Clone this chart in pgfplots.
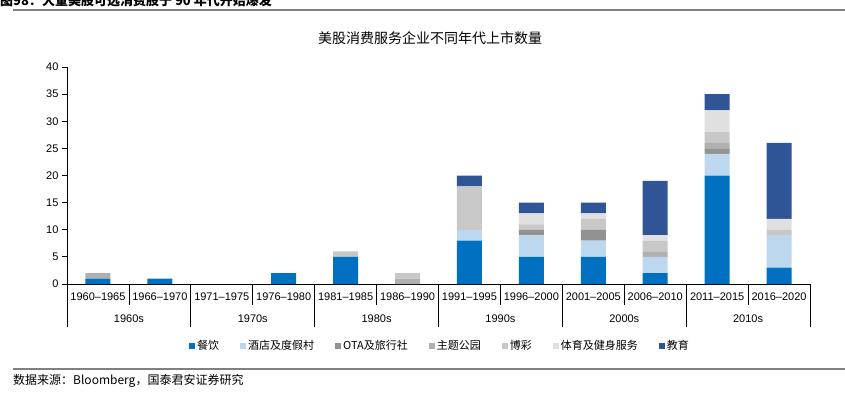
\documentclass[border=0pt]{standalone}
\usepackage{fontspec}
\setmainfont{Liberation Sans}
\newfontfamily\cjk{Noto Sans CJK SC}
\usepackage{pgfplots}
\pgfplotsset{compat=1.18}
\usepackage{pgfplotstable}
\definecolor{c1}{HTML}{0070C0}
\definecolor{c2}{HTML}{BDD7EE}
\definecolor{c3}{HTML}{929292}
\definecolor{c4}{HTML}{B0B0B0}
\definecolor{c5}{HTML}{C8C8C8}
\definecolor{c6}{HTML}{E0E0E0}
\definecolor{c7}{HTML}{2F5597}
\pgfplotstableread{
x a b c d e f g
0 1 0 0 1 0 0 0
1 1 0 0 0 0 0 0
2 0 0 0 0 0 0 0
3 2 0 0 0 0 0 0
4 5 0 0 0 1 0 0
5 0 0 0 1 1 0 0
6 8 2 0 0 8 0 2
7 5 4 1 0 1 2 2
8 5 3 2 0 2 1 2
9 2 3 0 1 2 1 10
10 20 4 1 1 2 4 3
11 3 6 0 0 1 2 14
}\datatable
\begin{document}
\begin{tikzpicture}
\useasboundingbox (0pt,0pt) rectangle (845pt,399pt);
\begin{axis}[
  at={(67pt,115pt)}, anchor=south west,
  scale only axis, width=743pt, height=217pt,
  ybar stacked, bar width=25pt,
  every axis plot post/.append style={legend image code/.code={\path[##1,draw=none] (0pt,-3pt) rectangle (6pt,3pt);}},
  xmin=-0.5, xmax=11.5, ymin=0, ymax=40,
  axis x line*=bottom, axis y line*=left,
  axis line style={black, line width=0.8pt},
  ytick={0,5,...,40},
  xtick={0,...,11},
  xticklabels={1960--1965,1966--1970,1971--1975,1976--1980,1981--1985,1986--1990,1991--1995,1996--2000,2001--2005,2006--2010,2011--2015,2016--2020},
  x tick style={draw=none},
  y tick style={black, line width=0.8pt},
  tick align=outside, major tick length=5pt,
  ticklabel style={font=\fontsize{11}{13}\selectfont},
  /pgf/number format/assume math mode=true,
  clip=false,
  legend style={at={(0.502,-0.285)}, anchor=center, draw=none, fill=none, legend columns=-1,
    font=\cjk\fontsize{11}{13}\selectfont,
    /tikz/every even column/.append style={column sep=19pt}},
]
\addplot[fill=c1, draw=none] table[x=x,y=a]{\datatable}; \addlegendentry{餐饮}
\addplot[fill=c2, draw=none] table[x=x,y=b]{\datatable}; \addlegendentry{酒店及度假村}
\addplot[fill=c3, draw=none] table[x=x,y=c]{\datatable}; \addlegendentry{OTA及旅行社}
\addplot[fill=c4, draw=none] table[x=x,y=d]{\datatable}; \addlegendentry{主题公园}
\addplot[fill=c5, draw=none] table[x=x,y=e]{\datatable}; \addlegendentry{博彩}
\addplot[fill=c6, draw=none] table[x=x,y=f]{\datatable}; \addlegendentry{体育及健身服务}
\addplot[fill=c7, draw=none] table[x=x,y=g]{\datatable}; \addlegendentry{教育}
\end{axis}
% category separators
\foreach \i in {1,3,5,7,9,11} {\draw[line width=0.8pt] ({67pt+61.917pt*\i},115pt) -- ++(0pt,-21pt);}
\foreach \i in {0,2,4,6,8,10,12} {\draw[line width=0.8pt] ({67pt+61.917pt*\i},115pt) -- ++(0pt,-43pt);}
\foreach \k/\lab in {0/1960s,1/1970s,2/1980s,3/1990s,4/2000s,5/2010s} {
  \node[font=\fontsize{11}{13}\selectfont] at ({67pt+61.917pt*(2*\k+1)},80pt) {\lab};}
% title
\node[font=\cjk\fontsize{14}{16}\selectfont] at (430pt,361pt) {美股消费服务企业不同年代上市数量};
% header
\node[anchor=base west, inner sep=0pt, font=\cjk\bfseries\fontsize{13}{15}\selectfont] at (0pt,393pt) {图98：大量美股可选消费股于 90 年代开始爆发};
\draw[color=gray, line width=1.5pt] (13pt,389pt) -- (845pt,389pt);
% footer
\draw[color=gray, line width=1.2pt] (13pt,30pt) -- (845pt,30pt);
\node[anchor=west, inner sep=0pt, font=\cjk\fontsize{12}{14}\selectfont] at (13pt,18pt) {数据来源：Bloomberg，国泰君安证券研究};
\end{tikzpicture}
\end{document}
